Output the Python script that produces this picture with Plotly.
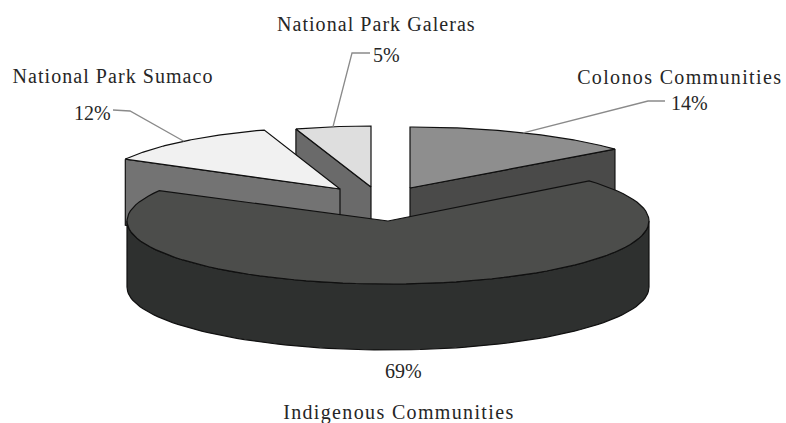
import numpy as np
import plotly.graph_objects as go

# Survey shares, clockwise from twelve o'clock
categories = ["Colonos Communities", "Indigenous Communities",
              "National Park Sumaco", "National Park Galeras"]
shares = [14, 69, 12, 5]
share_labels = ["14%", "69%", "12%", "5%"]

# Per-slice projection of the tilted disc: centre x, centre y, radius x, radius y
DISC = {
    "Colonos Communities": (410, 188, 266, 61),
    "Indigenous Communities": (388, 221, 261, 63),
    "National Park Sumaco": (340, 189, 245, 62),
    "National Park Galeras": (371, 187, 243, 61),
}
DEPTH = 66
TOP = {
    "Colonos Communities": "#8e8e8e",
    "Indigenous Communities": "#4c4d4b",
    "National Park Sumaco": "#f1f1f1",
    "National Park Galeras": "#dedede",
}
SIDE = {
    "Colonos Communities": "#4a4a49",
    "Indigenous Communities": "#2e302f",
    "National Park Sumaco": "#737373",
    "National Park Galeras": "#6a6a6a",
}

# Slice boundaries in degrees (counter-clockwise maths angle)
edges = 90 - np.cumsum([0] + shares) * 3.6
spans = {c: (edges[i], edges[i + 1]) for i, c in enumerate(categories)}


def rim(cat, a0, a1, n=90):
    cx, cy, rx, ry = DISC[cat]
    t = np.radians(np.linspace(a0, a1, n))
    return cx + rx * np.cos(t), cy - ry * np.sin(t)


def poly(fig, xs, ys, fill):
    fig.add_trace(go.Scatter(
        x=np.r_[xs, xs[0]], y=np.r_[ys, ys[0]], mode="lines", fill="toself",
        fillcolor=fill, line=dict(color="#101010", width=1.2),
        hoverinfo="skip", showlegend=False))


def draw_slice(fig, cat):
    a0, a1 = spans[cat]
    cx, cy, rx, ry = DISC[cat]
    xr, yr = rim(cat, a0, a1)
    # Outer wall: only the part of the rim that faces the viewer
    lo, hi = sorted((a0, a1))
    for k in range(-2, 2):
        s, e = max(lo, 180 + 360 * k), min(hi, 360 + 360 * k)
        if s < e:
            xf, yf = rim(cat, s, e)
            poly(fig, np.r_[xf, xf[::-1]], np.r_[yf, yf[::-1] + DEPTH], SIDE[cat])
    # Cut faces: the leading edge on the left half, the trailing edge on the right
    for a, sign in ((a0, -1), (a1, 1)):
        if sign * np.cos(np.radians(a)) > 1e-6:
            xc, yc = rim(cat, a, a, 1)
            poly(fig, np.array([xc[0], cx, cx, xc[0]]),
                 np.array([yc[0], cy, cy + DEPTH, yc[0] + DEPTH]), SIDE[cat])
    # Top surface
    poly(fig, np.r_[cx, xr], np.r_[cy, yr], TOP[cat])


fig = go.Figure()
for name in ["National Park Galeras", "National Park Sumaco",
             "Colonos Communities", "Indigenous Communities"]:
    draw_slice(fig, name)

# Leader lines start from the rim at each slice's mid angle
leader_bends = {
    "Colonos Communities": [(648, 101), (665, 101)],
    "National Park Sumaco": [(130, 111), (113, 110)],
    "National Park Galeras": [(352, 53), (370, 53)],
}
for cat, bend in leader_bends.items():
    mid = sum(spans[cat]) / 2
    xa, ya = rim(cat, mid, mid, 1)
    fig.add_trace(go.Scatter(
        x=[xa[0]] + [p[0] for p in bend], y=[ya[0]] + [p[1] for p in bend],
        mode="lines", line=dict(color="#8a8a8a", width=1.3),
        hoverinfo="skip", showlegend=False))

FONT = dict(family="Liberation Serif", size=20, color="#262626")
label_spots = [
    (categories[0], 680, 77), (share_labels[0], 689, 103),
    (categories[2], 113, 76), (share_labels[2], 92, 113),
    (categories[3], 376, 24), (share_labels[3], 386, 55),
    (share_labels[1], 403, 371), (categories[1], 399, 412),
]
for text, x, y in label_spots:
    fig.add_annotation(x=x, y=y, text=text, showarrow=False, font=FONT,
                       xref="x", yref="y", xanchor="center", yanchor="middle")

fig.update_layout(
    width=786, height=423, margin=dict(l=0, r=0, t=0, b=0),
    paper_bgcolor="white", plot_bgcolor="white", showlegend=False,
    xaxis=dict(range=[0, 786], visible=False, fixedrange=True),
    yaxis=dict(range=[423, 0], visible=False, fixedrange=True),
)

# The category captions are set with open tracking
TRACKING = """
document.querySelectorAll('.annotation-text').forEach(function (t) {
  var s = t.textContent;
  if (s.length > 4) {
    t.style.letterSpacing = s.indexOf('Communities') >= 0 ? '1.35px' : '1.05px';
  }
});
"""
fig.write_html("out.html", config=dict(displayModeBar=False), post_script=TRACKING)
